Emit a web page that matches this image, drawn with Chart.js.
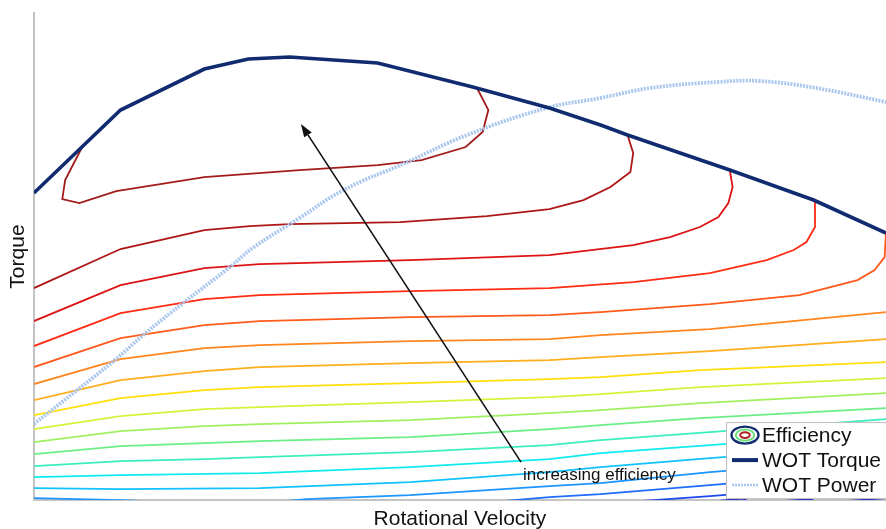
<!DOCTYPE html>
<html>
<head>
<meta charset="utf-8">
<script src="https://cdn.jsdelivr.net/npm/chart.js@4.4.1/dist/chart.umd.min.js"></script>
<style>
  html, body { margin: 0; padding: 0; background: #ffffff; }
  #wrap { width: 886px; height: 529px; }
</style>
</head>
<body>
<div id="wrap"><canvas id="map" width="886" height="529"></canvas></div>
<script>
// Wide-open-throttle torque curve (rpm, N·m)
const torqueRpm = [0, 610, 1200, 1510, 1800, 2420, 3090, 3630, 3990, 4180, 4900, 5490, 6000];
const torqueNm  = [153.5, 195, 215.5, 220.5, 221.5, 218.5, 206.5, 196, 187.5, 182.5, 165, 150, 133.5];

// Wide-open-throttle power curve (rpm, kW)
const powerRpm = [0, 570, 770, 1060, 1380, 1540, 1870, 2180, 2630, 3050, 3610, 3990, 4340, 4810, 5110, 5510, 6000];
const powerKw  = [19, 35, 41.25, 49.5, 58.25, 63, 70.5, 77.5, 84.5, 91.25, 98, 100.5, 103, 104.5, 104.75, 103, 99.5];

// Efficiency iso-lines, highest level first: [rpm, torque] pairs
const eff1  = [[340,176.5],[220,160],[200,150.5],[320,148.5],[580,154.5],[1200,161.5],[1870,165],[2420,167.5],[2730,170],[3040,176.5],[3160,184],[3200,195],[3120,206]];
const eff2  = [[0,106],[610,125.5],[1200,135],[1520,137],[1800,138],[2580,139],[3190,142],[3630,145.5],[3870,150],[4060,156.5],[4200,164],[4220,173.5],[4180,182.5]];
const eff3  = [[0,89.5],[610,107.5],[1200,116],[1590,118],[2650,120],[3630,122.5],[4220,127.5],[4480,131.5],[4690,136.5],[4820,141.5],[4890,148.5],[4920,156.5],[4900,165]];
const eff4  = [[0,77],[610,93.5],[1200,100.5],[1590,102.5],[2650,104.5],[3630,106],[4220,109],[4760,113.5],[5160,120],[5350,125],[5440,129],[5500,136.5],[5500,149.5]];
const eff5  = [[0,66.5],[610,81],[1200,87.5],[1590,89.5],[2650,91.5],[3630,92.5],[3990,94],[4760,98],[5390,102.5],[5800,110],[5920,115],[5990,121.5],[6000,133.5]];
const eff6  = [[0,58],[610,70.5],[1200,76],[1590,77.5],[2650,79.5],[3630,80.5],[3990,82.5],[4760,85.5],[6000,94]];
const eff7  = [[0,50],[610,60],[1200,64.5],[1590,66.5],[2650,68.5],[3630,70],[3990,71.5],[4760,74.5],[6000,80.5]];
const eff8  = [[0,42.5],[610,51],[1200,55],[1590,56.5],[2650,58.5],[3630,60.5],[3990,61.5],[4690,65],[6000,69]];
const eff9  = [[0,35.5],[610,42],[1200,45.5],[1590,46.5],[2650,49],[3630,51.5],[3990,53],[4690,56.5],[6000,61]];
const eff10 = [[0,29],[610,34.5],[1200,37],[1590,38],[2650,40],[3630,43.5],[3990,45],[4690,48.5],[6000,53.5]];
const eff11 = [[0,23],[610,27],[1200,28.5],[1590,29.5],[2650,31.5],[3630,35.5],[3990,37.5],[4690,41],[6000,46]];
const eff12 = [[0,17],[610,19.5],[1200,20.5],[1590,21.5],[2650,24],[3630,27.5],[3990,30],[4760,34],[6000,40.5]];
const eff13 = [[0,11.5],[610,12.5],[1590,13.5],[2650,16.5],[3630,20.5],[3990,23.5],[4760,27.5],[6000,34]];
const eff14 = [[0,6],[610,5.5],[1590,6],[2650,9],[3630,14],[3990,16.5],[4760,21],[6000,27.5]];
const eff15 = [[0,1],[610,0],[1170,-1.5],[1770,-0.5],[1920,0.5],[2650,2.5],[3630,7],[3990,8.5],[4760,14],[6000,21]];
const eff16 = [[3140,-1.5],[3630,1.5],[3990,3],[4760,7.5],[6000,15]];
const eff17 = [[4270,-0.5],[4760,2],[6000,9]];
const eff18 = [[4730,-1],[4990,0.75],[5060,-1.5],[5470,0.5],[5520,-1.5],[6000,1]];

const effLines = [eff1, eff2, eff3, eff4, eff5, eff6, eff7, eff8, eff9, eff10, eff11, eff12, eff13, eff14, eff15, eff16, eff17, eff18];

const seriesNames = ['Efficiency', 'WOT Torque', 'WOT Power'];

// Annotation arrow (rpm, N·m) and its caption
const arrowFrom = [3430, 19];
const arrowTo   = [1880, 188];
const arrowText = 'increasing efficiency';

// Colour ramp for the iso-lines, high to low efficiency
const effColors = ['#A31C1C', '#AE1616', '#DC1414', '#FF2C14', '#FF5A1C', '#FF861E', '#FFAE1E', '#FFDE0A',
                   '#D8F23A', '#9EF060', '#6CEE86', '#3AEEBE', '#10EAEE', '#12C2FF', '#1C96FF', '#1E6CFA', '#1E48EE', '#1A2CC8'];

const NAVY = '#102B6F';
const POWER_BLUE = '#A9C6EE';
const FONT = "'Liberation Sans', Arial, Helvetica, sans-serif";

Chart.defaults.font.family = FONT;

const datasets = [
  {
    label: seriesNames[1],
    data: torqueRpm.map((r, i) => ({ x: r, y: torqueNm[i] })),
    borderColor: NAVY, borderWidth: 3.6, pointRadius: 0, tension: 0,
    yAxisID: 'y', order: 0
  },
  {
    label: seriesNames[2],
    data: powerRpm.map((r, i) => ({ x: r, y: powerKw[i] })),
    borderColor: POWER_BLUE, borderWidth: 3.8, borderDash: [2, 1.2], pointRadius: 0,
    tension: 0.4, yAxisID: 'y2', order: 1
  }
];
effLines.forEach((line, k) => {
  datasets.push({
    label: seriesNames[0],
    data: line.map(p => ({ x: p[0], y: p[1] })),
    borderColor: effColors[k], borderWidth: 1.8, pointRadius: 0, tension: 0,
    yAxisID: 'y', clip: 0, order: 2 + k
  });
});

const overlay = {
  id: 'overlay',
  afterDatasetsDraw(chart) {
    const { ctx, scales: { x, y } } = chart;
    const x0 = x.getPixelForValue(arrowFrom[0]), y0 = y.getPixelForValue(arrowFrom[1]);
    const x1 = x.getPixelForValue(arrowTo[0]),   y1 = y.getPixelForValue(arrowTo[1]);
    const ang = Math.atan2(y1 - y0, x1 - x0);
    const head = 13, half = 4.5;
    const bx = x1 - head * Math.cos(ang), by = y1 - head * Math.sin(ang);
    ctx.save();
    ctx.strokeStyle = '#111'; ctx.fillStyle = '#111'; ctx.lineWidth = 1.6;
    ctx.beginPath(); ctx.moveTo(x0, y0); ctx.lineTo(bx, by); ctx.stroke();
    ctx.beginPath();
    ctx.moveTo(x1, y1);
    ctx.lineTo(bx + half * Math.sin(ang), by - half * Math.cos(ang));
    ctx.lineTo(bx - half * Math.sin(ang), by + half * Math.cos(ang));
    ctx.closePath(); ctx.fill();
    ctx.font = '17px ' + FONT;
    ctx.textAlign = 'left'; ctx.textBaseline = 'alphabetic';
    ctx.fillText(arrowText, x0 + 2, y0 + 18);
    ctx.restore();
  },
  afterDraw(chart) {
    // Legend box in the lower right corner of the plot
    const { ctx, chartArea } = chart;
    const left = chartArea.right - 160, top = chartArea.bottom - 78;
    ctx.save();
    ctx.fillStyle = '#ffffff';
    ctx.fillRect(left + 0.5, top + 0.5, 200, 76);
    ctx.strokeStyle = '#BDBDBD'; ctx.lineWidth = 1;
    ctx.strokeRect(left + 0.5, top + 0.5, 200, 76);
    const ix = left + 6, iw = 26, rowY = [top + 13, top + 38, top + 63];
    // Efficiency: nested ellipses
    const cx = ix + iw / 2, cy = rowY[0];
    [[13.5, 8.5, NAVY, 2.4], [9.2, 5.6, '#6EE07E', 2], [4.8, 2.8, '#B01E1E', 2]].forEach(e => {
      ctx.beginPath(); ctx.ellipse(cx, cy, e[0], e[1], 0, 0, Math.PI * 2);
      ctx.strokeStyle = e[2]; ctx.lineWidth = e[3]; ctx.stroke();
    });
    ctx.beginPath(); ctx.moveTo(ix, rowY[1]); ctx.lineTo(ix + iw, rowY[1]);
    ctx.strokeStyle = NAVY; ctx.lineWidth = 4; ctx.stroke();
    ctx.beginPath(); ctx.moveTo(ix, rowY[2]); ctx.lineTo(ix + iw, rowY[2]);
    ctx.strokeStyle = POWER_BLUE; ctx.lineWidth = 2.5; ctx.setLineDash([2, 1]); ctx.stroke();
    ctx.setLineDash([]);
    ctx.fillStyle = '#111'; ctx.font = '21px ' + FONT;
    ctx.textAlign = 'left'; ctx.textBaseline = 'middle';
    seriesNames.forEach((name, i) => ctx.fillText(name, ix + iw + 4, rowY[i] + 1));
    ctx.restore();
  }
};

new Chart(document.getElementById('map'), {
  type: 'line',
  data: { datasets },
  options: {
    responsive: false,
    animation: false,
    devicePixelRatio: 1,
    layout: { padding: { top: 13, right: 0, bottom: 0, left: 0 } },
    plugins: { legend: { display: false }, tooltip: { enabled: false } },
    scales: {
      x: {
        type: 'linear', min: 0, max: 6000,
        grid: { display: false, drawTicks: false },
        ticks: { display: false },
        border: { display: true, color: '#C4C4C4', width: 2 },
        title: { display: true, text: 'Rotational Velocity', color: '#111',
                 font: { size: 21, lineHeight: 0.9 }, padding: { top: 10, bottom: 0 } }
      },
      y: {
        type: 'linear', position: 'left', min: 0, max: 243.5,
        grid: { display: false, drawTicks: false },
        ticks: { display: false },
        border: { display: true, color: '#C4C4C4', width: 2 },
        title: { display: true, text: 'Torque', color: '#111',
                 font: { size: 21, lineHeight: 0.9 }, padding: { top: 9, bottom: 6 } }
      },
      y2: { type: 'linear', display: false, min: 0, max: 121.75 }
    }
  },
  plugins: [overlay]
});
</script>
</body>
</html>
